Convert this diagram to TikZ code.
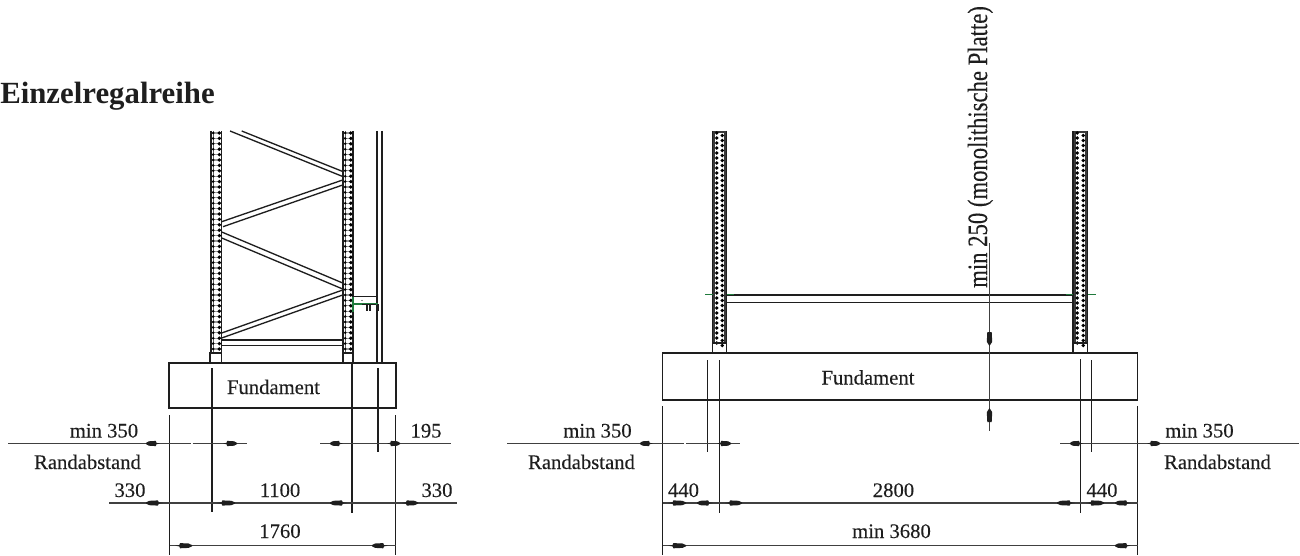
\documentclass[tikz,border=0pt]{standalone}
\usepackage{fontspec}
\setmainfont{Liberation Serif}
\newfontfamily\dimfont{Liberation Serif}[FakeBold=0.2]
\definecolor{ink}{HTML}{1E1E1E}
\definecolor{grn}{HTML}{1F7A3C}
\tikzset{
  ln/.style={draw=ink,line width=1pt},
  thin ln/.style={draw=ink!85,line width=0.8pt},
  txt/.style={anchor=base,inner sep=0pt,text=ink,font=\dimfont\fontsize{15.5}{17}\selectfont},
  gln/.style={draw=grn,line width=1.3pt}
}
% horizontal arrow: tip x, base x, y
\newcommand{\harr}[3]{\fill[ink] (#1,#3) -- ({#1+0.25*(#2-#1)},#3-0.7) -- ({#1+0.3*(#2-#1)},#3-2.6) -- ({#1+0.8*(#2-#1)},#3-2.2) -- (#2,#3-0.6) -- (#2,#3+0.6) -- ({#1+0.8*(#2-#1)},#3+2.2) -- ({#1+0.3*(#2-#1)},#3+2.6) -- ({#1+0.25*(#2-#1)},#3+0.7) -- cycle;}
% vertical arrow: tip y, base y, x
\newcommand{\varr}[3]{\fill[ink] (#3,#1) -- (#3-2.7,{#1+0.3*(#2-#1)}) -- (#3-2.2,#2) -- (#3+2.2,#2) -- (#3+2.7,{#1+0.3*(#2-#1)}) -- cycle;}
% perforated column of the left frame: left x, right x, bottom y
\newcommand{\ladder}[3]{
  \draw[ln] (#1,131) -- (#1,#3) (#2,131) -- (#2,#3);
  \draw[ink!70,line width=0.6pt] ({#1+2.2},131) -- ({#1+2.2},#3);
  \foreach \yy in {133,138.4,...,#3}{
    \fill[ink!45] ({#1+1},\yy-0.6) rectangle ({#2-1},\yy+0.6);
    \fill[black] ({#1+2.2},\yy) circle (1.4);
    \fill[black] ({#2-2.2},\yy) circle (1.9);
  }
}
% dense column of the right frame
\newcommand{\densecol}[3]{
  \fill[ink!88] (#1,131) rectangle (#2,#3);
  \draw[ln] (#1,131) -- (#1,#3) (#2,131) -- (#2,#3);
  \fill[white] ({#1+2.6},133) rectangle ({#2-2.6},#3-1);
  \foreach \yy in {133,138,...,#3}{
    \fill[black] ({#1+4.3},\yy) circle (1.9);
    \fill[black] ({#2-4.3},\yy+2.5) circle (1.9);
  }
}
\begin{document}
\begin{tikzpicture}[x=0.75pt,y=-0.75pt]
\useasboundingbox (0,0) rectangle (1300,556);
% title
\node[txt,anchor=base west,font=\fontsize{23.1}{25}\selectfont\bfseries] (title) at (0,104) {Einzelregalreihe};

% ---------- left frame ----------
\ladder{211}{221.5}{353}
\ladder{343}{353}{353}
\draw[ln] (230,131) -- (342.7,176.5) (241.7,131) -- (342.7,171.5);
\draw[ln] (221.7,221.7) -- (342.7,180) (223,226.7) -- (342.7,185);
\draw[ln] (221.7,232) -- (342.7,283) (221.7,238) -- (342.7,289);
\draw[ln] (221.7,333) -- (342.7,290) (221.7,338) -- (342.7,295);
\draw[ln] (221.7,340) -- (343,340) (221.7,345.7) -- (343,345.7);
\draw[ln] (377,131) -- (377,363) (382,131) -- (382,363);
% bracket
\draw[ln] (353,296.7) -- (378,296.7);
\draw[gln] (353,297) -- (353,312) (353,304) -- (378,304);
\draw[ink,line width=1.2pt] (367,305) -- (367,311) (370,305) -- (370,311) (378,304) -- (378,311) (362,304.5) -- (376,304.5);
\fill[ink] (362,300.5) circle (0.7);
% feet
\draw[ln] (210,353) rectangle (221.5,363);
\draw[ln] (343,353) rectangle (353,363);
\draw[ink,line width=1.4pt] (207,362.5) -- (224,362.5) (340,362.5) -- (356,362.5);
% foundation
\draw[ln] (169,363) rectangle (396,408);
\node[txt] (fundL) at (273.5,394) {Fundament};

% extension lines
\draw[ln] (169.5,415) -- (169.5,555);
\draw[ink,line width=1.5pt] (212,368) -- (212,452);
\draw[ln] (212,452) -- (212,512);
\draw[ln] (352,363) -- (352,513);
\draw[ln] (378,368) -- (378,452);
\draw[ln] (395.5,415) -- (395.5,555);
% dimension lines
\draw[thin ln] (8,443.5) -- (191,443.5) (192.5,443.5) -- (247,443.5) (320,443.5) -- (451,443.5);
\draw[thin ln] (109,503) -- (457,503);
\draw[thin ln] (169.5,545.7) -- (395.5,545.7);
\harr{160}{146}{443.5}\harr{223}{237}{443.5}\harr{343}{330}{443.5}\harr{387}{400}{443.5}
\harr{163}{146}{503}\harr{217}{235}{503}\harr{347}{330}{503}\harr{402}{418}{503}
\harr{175}{192}{545.7}\harr{388}{372}{545.7}
% texts
\node[txt] (a1) at (104,437.5) {min 350};
\node[txt] (a2) at (87.5,469) {Randabstand};
\node[txt] (a3) at (130,497) {330};
\node[txt] (a4) at (280,497) {1100};
\node[txt] (a5) at (437,497) {330};
\node[txt] (a6) at (280,538) {1760};
\node[txt] (a7) at (426,437.5) {195};

% ---------- right frame ----------
\densecol{712.5}{726.5}{343}
\densecol{1073}{1087.5}{343}
\draw[ln] (712.5,343) rectangle (726.5,352.5);
\draw[ln] (1073,343) rectangle (1087.5,352.5);
\draw[ink,line width=1.4pt] (703,352.5) -- (735,352.5) (1064,352.5) -- (1097,352.5);
\draw[ln] (727,295) -- (1073,295) (727,302.7) -- (1073,302.7);
\draw[gln] (705,294.5) -- (712.5,294.5) (727,294.5) -- (734,294.5) (1066,294.5) -- (1073,294.5) (1087.5,294.5) -- (1096,294.5);
% foundation
\draw[ln] (662.7,353) rectangle (1137.5,400);
\node[txt] (fundR) at (868,384.5) {Fundament};
% extension lines
\draw[ln] (662.7,406) -- (662.7,555);
\draw[ln] (707.5,360) -- (707.5,452);
\draw[ln] (719.5,360) -- (719.5,513);
\draw[ln] (1080.5,359) -- (1080.5,513);
\draw[ln] (1091.5,360) -- (1091.5,452);
\draw[ln] (1137.5,406) -- (1137.5,555);
% dimension lines
\draw[thin ln] (507,443.5) -- (684,443.5) (686,443.5) -- (740,443.5) (1060,443.5) -- (1299,443.5);
\draw[thin ln] (662.7,503) -- (1137.5,503);
\draw[thin ln] (662.7,545.7) -- (1137.5,545.7);
\harr{653}{640}{443.5}\harr{717}{731}{443.5}\harr{1083}{1070}{443.5}\harr{1147}{1160}{443.5}
\harr{668}{686}{503}\harr{713}{697}{503}\harr{725}{742}{503}\harr{1075}{1057}{503}\harr{1086}{1104}{503}\harr{1131}{1115}{503}
\harr{668}{686}{545.7}\harr{1131}{1115}{545.7}
% vertical dimension
\draw[thin ln] (989.5,243) -- (989.5,431);
\varr{346}{332}{989.5}\varr{408}{422}{989.5}
% texts
\node[txt] (b1) at (597.5,437.5) {min 350};
\node[txt] (b2) at (581.5,469) {Randabstand};
\node[txt] (b3) at (683.5,497) {440};
\node[txt] (b4) at (893.5,497) {2800};
\node[txt] (b5) at (1102,497) {440};
\node[txt] (b6) at (891.5,538) {min 3680};
\node[txt] (b7) at (1199.5,437.5) {min 350};
\node[txt] (b8) at (1217.5,469) {Randabstand};
\node[txt,anchor=base west,rotate=90,font=\dimfont\fontsize{21}{23}\selectfont] (b9) at (987,288) {\scalebox{0.81}[1]{min 250 (monolithische Platte)}};
\end{tikzpicture}
\end{document}
